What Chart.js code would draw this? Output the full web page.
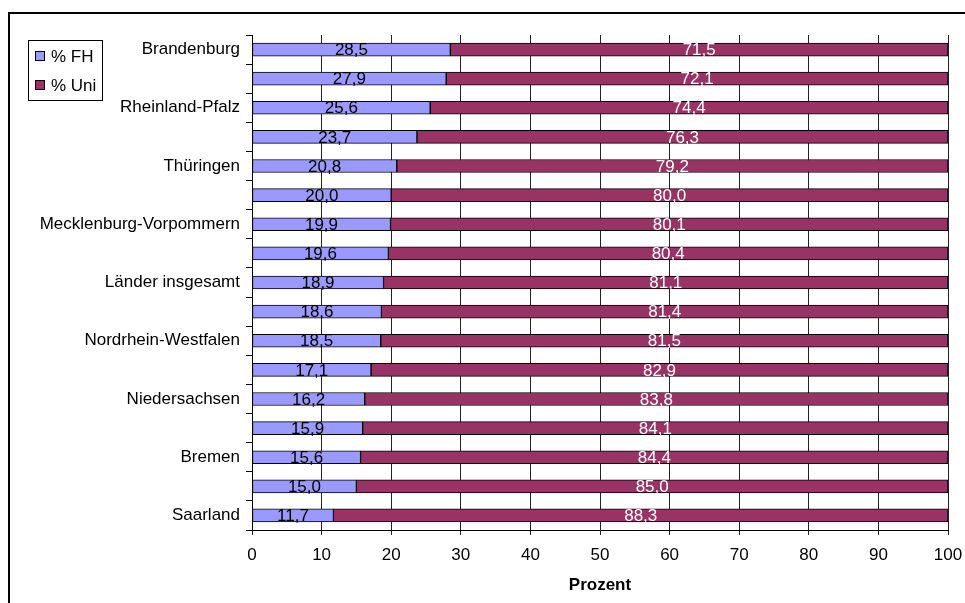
<!DOCTYPE html>
<html lang="de">
<head>
<meta charset="utf-8">
<title>Anteil FH / Uni nach Ländern</title>
<script src="https://cdn.jsdelivr.net/npm/chart.js@4/dist/chart.umd.min.js"></script>
<style>
  html, body { margin: 0; padding: 0; background: #fff; }
  #wrap { width: 965px; height: 603px; position: relative; }
</style>
</head>
<body>
<div id="wrap"><canvas id="c" width="965" height="603"></canvas></div>
<script>
// Länder, sorted by FH share (only every other name is labelled on the axis)
const categories = [
  'Brandenburg', '', 'Rheinland-Pfalz', '', 'Thüringen', '',
  'Mecklenburg-Vorpommern', '', 'Länder insgesamt', '', 'Nordrhein-Westfalen', '',
  'Niedersachsen', '', 'Bremen', '', 'Saarland'
];
const shareFH = [28.5, 27.9, 25.6, 23.7, 20.8, 20.0, 19.9, 19.6, 18.9, 18.6, 18.5, 17.1, 16.2, 15.9, 15.6, 15.0, 11.7];
const shareUni = [71.5, 72.1, 74.4, 76.3, 79.2, 80.0, 80.1, 80.4, 81.1, 81.4, 81.5, 82.9, 83.8, 84.1, 84.4, 85.0, 88.3];
const seriesNames = ['% FH', '% Uni'];
const xTicks = [0, 10, 20, 30, 40, 50, 60, 70, 80, 90, 100];
const axisTitle = 'Prozent';

const FONT = '"Liberation Sans", Arial, sans-serif';
const colFH = '#9999ff';
const colUni = '#993366';
const fmt = v => v.toFixed(1).replace('.', ',');

// value labels centred in each bar segment
const valueLabels = {
  id: 'valueLabels',
  afterDatasetsDraw(chart) {
    const ctx = chart.ctx;
    ctx.save();
    ctx.font = '17px ' + FONT;
    ctx.textAlign = 'center';
    ctx.textBaseline = 'middle';
    chart.data.datasets.forEach((ds, di) => {
      const meta = chart.getDatasetMeta(di);
      ctx.fillStyle = di === 0 ? '#000' : '#fff';
      meta.data.forEach((el, i) => {
        const x = (el.x + el.base) / 2;
        ctx.fillText(fmt(ds.data[i]), x, el.y + 1);
      });
    });
    ctx.restore();
  }
};

// outer frame and boxed legend on the left
const frameAndLegend = {
  id: 'frameAndLegend',
  afterDraw(chart) {
    const ctx = chart.ctx;
    ctx.save();
    ctx.fillStyle = '#000';
    ctx.fillRect(8, 12, 2, 603);
    ctx.fillRect(8, 12, 965, 2);

    // legend box
    ctx.strokeStyle = '#000';
    ctx.lineWidth = 1;
    ctx.strokeRect(28.5, 40.5, 74, 60);
    ctx.font = '17px ' + FONT;
    ctx.textAlign = 'left';
    ctx.textBaseline = 'middle';
    chart.data.datasets.forEach((ds, i) => {
      const cy = 56 + i * 29;
      ctx.fillStyle = ds.backgroundColor;
      ctx.fillRect(35, cy - 5, 10, 10);
      ctx.strokeRect(35.5, cy - 4.5, 9, 9);
      ctx.fillStyle = '#000';
      ctx.fillText(ds.label, 51, cy + 1);
    });
    ctx.restore();
  }
};

new Chart(document.getElementById('c'), {
  type: 'bar',
  data: {
    labels: categories,
    datasets: [
      { label: seriesNames[0], data: shareFH, backgroundColor: colFH,
        borderColor: '#000', borderWidth: 1, borderSkipped: false, barThickness: 13 },
      { label: seriesNames[1], data: shareUni, backgroundColor: colUni,
        borderColor: '#000', borderWidth: 1, borderSkipped: false, barThickness: 13 }
    ]
  },
  options: {
    indexAxis: 'y',
    responsive: false,
    animation: false,
    layout: { padding: { top: 35, right: 17, left: 0, bottom: 0 } },
    plugins: {
      legend: { display: false },
      tooltip: { enabled: false }
    },
    scales: {
      x: {
        stacked: true,
        min: 0,
        max: 100,
        afterBuildTicks: s => { s.ticks = xTicks.map(v => ({ value: v })); },
        afterFit: s => { s.height = 73; s.paddingLeft = 0; s.paddingRight = 0; },
        grid: { color: '#222', lineWidth: 1, tickLength: 5, drawOnChartArea: true },
        border: { display: true, color: '#000', width: 1 },
        ticks: { color: '#000', font: { family: FONT, size: 17 }, padding: 10, maxRotation: 0 },
        title: {
          display: true, text: axisTitle, color: '#000',
          font: { family: FONT, size: 17, weight: 'bold' },
          padding: { top: 0, bottom: 7 }
        }
      },
      y: {
        stacked: true,
        afterFit: s => { s.width = 252; },
        grid: { color: '#000', drawOnChartArea: false, drawTicks: true, tickLength: 6, offset: true },
        border: { display: true, color: '#000', width: 1 },
        ticks: { color: '#000', font: { family: FONT, size: 17 }, padding: 6, autoSkip: false }
      }
    }
  },
  plugins: [valueLabels, frameAndLegend]
});
</script>
</body>
</html>
